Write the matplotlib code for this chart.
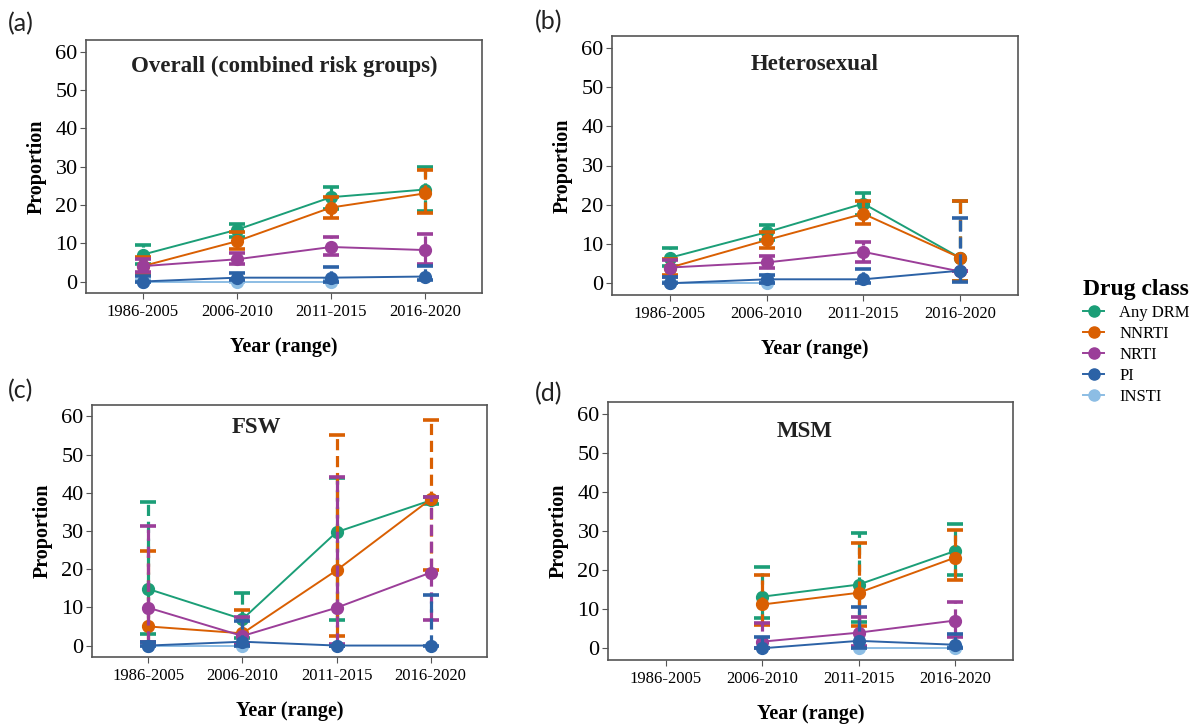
import numpy as np
import matplotlib
matplotlib.use("Agg")
import matplotlib.pyplot as plt
from matplotlib.lines import Line2D

nan = np.nan

years = ['1986-2005', '2006-2010', '2011-2015', '2016-2020']
classes = ['Any DRM', 'NNRTI', 'NRTI', 'PI', 'INSTI']
colors = ['#1b9e77', '#d95f02', '#9b3e99', '#2c62a6', '#8cbde4']

# one row per drug class (Any DRM, NNRTI, NRTI, PI, INSTI)
overall_val = [[7, 13.5, 22, 24], [4, 10.5, 19.3, 23], [4, 5.8, 9, 8.2],
               [0, 1, 1, 1.3], [0, 0, 0, nan]]
overall_lo = [[4.5, 11.5, 19, 18.5], [2, 8.5, 16.5, 18], [2.5, 4.5, 7, 4.5],
              [0, 0.3, 0, 0.3], [0, 0, 0, nan]]
overall_hi = [[9.5, 15, 24.7, 30], [6.5, 13, 22, 29], [6, 7.5, 11.5, 12.5],
              [1.5, 2.3, 3.7, 4], [0.3, 0.5, 0.5, nan]]

hetero_val = [[6.5, 13, 20.3, 6.5], [4, 11, 17.7, 6.5], [4, 5.3, 8, 3],
              [0, 1, 1, 3.2], [0, 0, nan, nan]]
hetero_lo = [[4.5, 11, 17.5, 0.5], [2, 9, 15, 0.5], [1.5, 4, 5.5, 3],
             [0, 0, 0, 0.3], [0, 0, nan, nan]]
hetero_hi = [[9, 14.8, 23, 21], [6.3, 13, 21, 21], [6, 7, 10.5, 3],
             [1.5, 2, 3.6, 16.5], [0.3, 0.3, nan, nan]]

fsw_val = [[14.8, 6.9, 29.7, 38], [5, 3.2, 19.7, 38.3], [9.9, 2.5, 9.9, 19.1],
           [0, 1, 0, 0], [0, 0, nan, nan]]
fsw_lo = [[3, 2, 6.7, 37], [1, 0.5, 2.5, 19.7], [0.8, 0.5, 0.5, 6.7],
          [0, 0, 0, 0], [0, 0, nan, nan]]
fsw_hi = [[37.5, 13.8, 44, 39], [24.7, 9.3, 55.2, 59.1], [31.4, 7.5, 44.1, 39],
          [1, 6.5, 0, 13.2], [0.3, 0.3, nan, nan]]

msm_val = [[nan, 13.2, 16.3, 24.9], [nan, 11.2, 14.2, 23.2], [nan, 1.7, 4, 7.1],
           [nan, 0, 1.9, 0.9], [nan, nan, 0, 0]]
msm_lo = [[nan, 7.7, 6.8, 18.7], [nan, 6, 5.7, 17.4], [nan, 0, 0.5, 3],
          [nan, 0, 0, 0], [nan, nan, 0, 0]]
msm_hi = [[nan, 20.7, 29.4, 31.9], [nan, 18.7, 27, 30.2], [nan, 6.4, 8, 11.9],
          [nan, 3, 10.6, 3.7], [nan, nan, 0.3, 0.3]]

serif = 'Liberation Serif'
plt.rcParams['font.family'] = serif

fig = plt.figure(figsize=(11.94, 7.25), dpi=100)
W, H = 1194, 725


def add_axes(left, top, right, bottom):
    return fig.add_axes([left / W, 1 - bottom / H, (right - left) / W, (bottom - top) / H])


def draw_panel(ax, vals, los, his, title, tx, ty):
    x = np.arange(len(years))
    # INSTI sits underneath the others
    zorders = [3, 4, 5, 6, 2]
    for i in range(len(classes)):
        v = np.array(vals[i], dtype=float)
        lo = np.array(los[i], dtype=float)
        hi = np.array(his[i], dtype=float)
        err = np.vstack([v - lo, hi - v])
        eb = ax.errorbar(x, v, yerr=err, color=colors[i], marker='o', markersize=8.5,
                         lw=1.4, elinewidth=2.3, capsize=5.5, capthick=2.6, zorder=zorders[i])
        for c in eb[2]:
            c.set_linestyle((0, (3.5, 1.8)))
    ax.set_xlim(-0.6, 3.6)
    ax.set_ylim(-3, 63)
    ax.set_xticks(x)
    ax.set_xticklabels(years, fontsize=12, family=serif)
    ax.set_yticks([0, 10, 20, 30, 40, 50, 60])
    ax.set_yticklabels(['0', '10', '20', '30', '40', '50', '60'], fontsize=16, family=serif)
    ax.tick_params(axis='y', length=4, color='#555555', pad=2)
    ax.tick_params(axis='x', length=4, color='#555555', pad=4)
    for s in ax.spines.values():
        s.set_color('#555555')
        s.set_linewidth(1.2)
    ax.set_ylabel('Proportion', fontsize=14.5, fontweight='bold', labelpad=6)
    ax.set_xlabel('Year (range)', fontsize=14.5, fontweight='bold', labelpad=12)
    ax.text(tx, ty, title, transform=ax.transAxes, ha='center', va='center',
            fontsize=16.5, fontweight='bold', color='#222222')


ax_a = add_axes(86, 40, 482, 293)
draw_panel(ax_a, overall_val, overall_lo, overall_hi, 'Overall (combined risk groups)', 0.5, 0.895)
ax_b = add_axes(612, 36, 1018, 295)
draw_panel(ax_b, hetero_val, hetero_lo, hetero_hi, 'Heterosexual', 0.5, 0.89)
ax_c = add_axes(92, 405, 487, 657)
draw_panel(ax_c, fsw_val, fsw_lo, fsw_hi, 'FSW', 0.415, 0.91)
ax_d = add_axes(608, 402, 1013, 660)
draw_panel(ax_d, msm_val, msm_lo, msm_hi, 'MSM', 0.485, 0.885)

for lab, px, py in [('(a)', 8, 24), ('(b)', 535, 22), ('(c)', 8, 391), ('(d)', 535, 394)]:
    fig.text(px / W, 1 - py / H, lab, fontsize=18, family='Lato', va='center', ha='left',
             color='#222222')

handles = [Line2D([0], [0], color=c, marker='o', markersize=8, lw=1.4) for c in colors]
leg = fig.legend(handles, classes, loc='upper left', bbox_to_anchor=(1076 / W, 1 - 272 / H),
                 frameon=False, fontsize=12, title='Drug class', handlelength=1.3,
                 handletextpad=0.9, labelspacing=0.3, borderaxespad=0)
leg.get_title().set_fontsize(17)
leg.get_title().set_fontweight('bold')
leg._legend_box.align = 'left'

fig.savefig('out.png', dpi=100)
